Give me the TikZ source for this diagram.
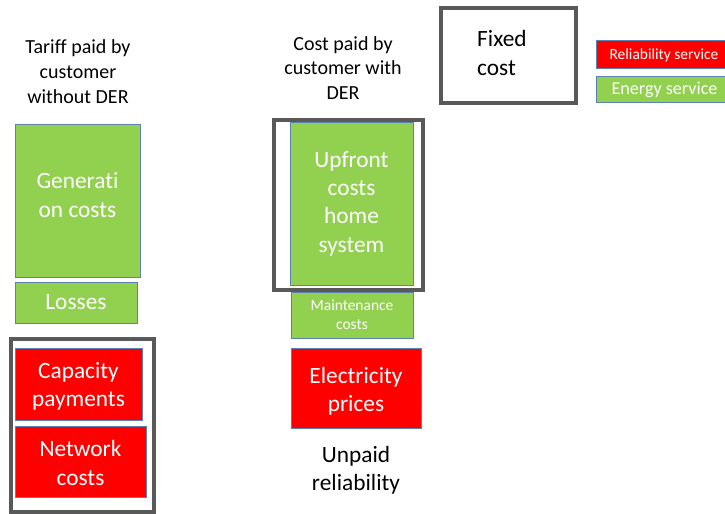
\documentclass[tikz,border=0pt]{standalone}
\usepackage{fontspec}
\setmainfont{Carlito}[RawFeature={-liga;-clig;-dlig;-calt}]
\definecolor{energy}{HTML}{92D050}
\definecolor{relia}{HTML}{FF0000}
\definecolor{edge}{HTML}{5B82B0}
\definecolor{frame}{HTML}{595959}
\tikzset{
  big/.style={font=\fontsize{17.5}{21.2}\selectfont},
  head/.style={font=\fontsize{15}{18.7}\selectfont},
  small/.style={font=\fontsize{11.6}{14.2}\selectfont},
  legfont/.style={font=\fontsize{13.6}{16}\selectfont},
  cell/.style={draw=edge, line width=0.75pt, inner sep=0pt, text=white, align=center},
  energybox/.style={cell, fill=energy},
  reliabox/.style={cell, fill=relia},
  grayframe/.style={draw=frame, line width=2.3pt, inner sep=0pt},
  sz/.style 2 args={minimum width=#1, minimum height=#2},
}
\begin{document}
\begin{tikzpicture}[x=0.75pt,y=-0.75pt]
\useasboundingbox[fill=white] (0,0) rectangle (725,514);

% column 1: tariff without DER
\node[head, align=center] (head1) at (78,72) {Tariff paid by\\customer\\without DER};
\node[energybox, big, sz={93.75pt}{114.75pt}] (gen) at (77.5,200.5) {};
\node[big, text=white, align=center] (gentxt) at (77.5,195) {Generati\\on costs};
\node[energybox, big, sz={91.5pt}{30.75pt}] (loss) at (76,302.5) {Losses};
\node[grayframe, sz={107.25pt}{129.75pt}] (frame1) at (82.5,425.5) {};
\node[reliabox, big, sz={95.25pt}{54pt}] (cap) at (78.5,384) {};
\node[big, text=white, align=center] (captxt) at (78.5,386) {Capacity\\payments};
\node[reliabox, big, sz={98.25pt}{53.25pt}] (net) at (80.5,461.5) {};
\node[big, text=white, align=center] (nettxt) at (80.5,463) {Network\\costs};

% column 2: cost with DER
\node[head, align=center] (head2) at (343,68) {Cost paid by\\customer with\\DER};
\node[grayframe, sz={111.75pt}{127.5pt}] (frame2) at (348.5,205) {};
\node[energybox, big, sz={92.25pt}{122.25pt}] (up) at (351.5,203.5) {Upfront\\costs\\home\\system};
\node[energybox, small, sz={91.5pt}{34.5pt}] (maint) at (352,315) {Maintenance\\costs};
\node[reliabox, big, sz={97.5pt}{60pt}] (elec) at (356,388) {};
\node[big, text=white, align=center] (electxt) at (356,391) {Electricity\\prices};
\node[big, align=center] (unpaid) at (356,470.5) {Unpaid\\reliability};

% fixed cost frame
\node[grayframe, sz={101.25pt}{71.25pt}] (fixed) at (508.5,55.5) {};
\node[big, align=left, anchor=west] (fixedtxt) at (472.5,53) {Fixed\\cost};

% legend
\node[reliabox, small, sz={99pt}{21pt}] (legrel) at (662,54) {};
\node[small, text=white] (legreltxt) at (664,55) {Reliability service};
\node[energybox, sz={99pt}{19.5pt}] (legen) at (662,89) {};
\node[legfont, text=white] (legentxt) at (664.5,90) {Energy service};
\end{tikzpicture}
\end{document}
